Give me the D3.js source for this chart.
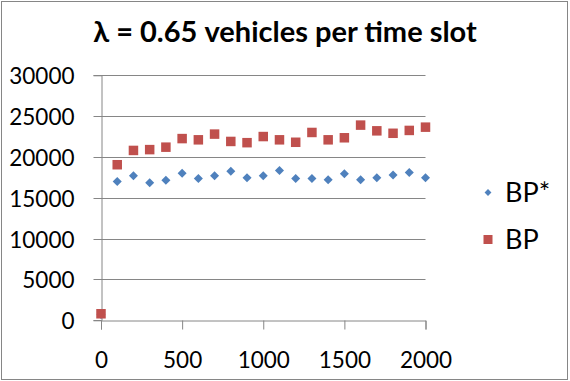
<!DOCTYPE html>
<html>
<head>
<meta charset="utf-8">
<script src="https://cdn.jsdelivr.net/npm/d3@7"></script>
<style>
  body { margin: 0; background: #fff; }
  svg { display: block; font-family: Lato, "Open Sans", sans-serif; }
</style>
</head>
<body>
<svg id="chart"></svg>
<script>
let xValues = [0, 100, 200, 300, 400, 500, 600, 700, 800, 900, 1000,
               1100, 1200, 1300, 1400, 1500, 1600, 1700, 1800, 1900, 2000]
let bpStar = [700, 17000, 17700, 16850, 17150, 18000, 17350, 17700, 18250, 17450, 17700,
              18350, 17350, 17350, 17200, 17950, 17200, 17450, 17800, 18100, 17450]
let bp = [800, 19050, 20800, 20900, 21200, 22250, 22100, 22800, 21900, 21750, 22500,
          22100, 21800, 23000, 22100, 22350, 23900, 23200, 22900, 23250, 23650]
let xTicks = [0, 500, 1000, 1500, 2000]
let yTicks = [0, 5000, 10000, 15000, 20000, 25000, 30000]
let seriesNames = ['BP*', 'BP']
let seriesColors = ['#4F81BD', '#C0504D']
let title = 'λ = 0.65 vehicles per time slot'

let width = 570
let height = 381
let plot = {left: 101, right: 425.5, top: 75.3, bottom: 320.3}

let svg = d3.select('#chart').attr('width', width).attr('height', height)

svg.append('rect')
   .attr('x', 1.5).attr('y', 1.5)
   .attr('width', 566).attr('height', 378)
   .attr('fill', '#fff').attr('stroke', '#868686')

let xScale = d3.scaleLinear().domain([0, 2000]).range([plot.left, plot.right])
let yScale = d3.scaleLinear().domain([0, 30000]).range([plot.bottom, plot.top])

// gridlines
svg.append('g')
   .selectAll('line')
   .data(yTicks.filter(d => d > 0))
   .enter()
   .append('line')
   .attr('x1', plot.left).attr('x2', plot.right)
   .attr('y1', d => Math.round(yScale(d)) + 0.5)
   .attr('y2', d => Math.round(yScale(d)) + 0.5)
   .attr('stroke', '#868686')

let yAxis = d3.axisLeft(yScale).tickValues(yTicks).tickSize(8).tickPadding(19).tickFormat(d3.format('d'))
let xAxis = d3.axisBottom(xScale).tickValues(xTicks).tickSize(9).tickPadding(23).tickFormat(d3.format('d'))

let gy = svg.append('g')
   .attr('transform', 'translate(' + (Math.round(plot.left) + 0.5) + ',0)')
   .call(yAxis)
gy.selectAll('.tick').attr('transform', d => 'translate(0,' + (Math.round(yScale(d)) + 0.5) + ')')

let gx = svg.append('g')
   .attr('transform', 'translate(0,' + (Math.round(plot.bottom) + 0.5) + ')')
   .call(xAxis)

for (let g of [gx, gy]) {
  g.select('.domain').attr('stroke', '#868686')
  g.selectAll('.tick line').attr('stroke', '#868686')
  g.selectAll('.tick text').attr('fill', '#000').style('font-size', '22.5px').style('font-family', 'Lato, sans-serif')
}
gy.selectAll('.tick text').attr('dy', '0.36em')

// BP* diamonds
let diamond = d3.symbol().type(d3.symbolDiamond2).size(52)
svg.append('g')
   .selectAll('path')
   .data(xValues.map((x, i) => ({x: x, y: bpStar[i]})))
   .enter()
   .append('path')
   .attr('d', diamond)
   .attr('transform', d => 'translate(' + xScale(d.x) + ',' + yScale(d.y) + ')')
   .attr('fill', seriesColors[0])

// BP squares
svg.append('g')
   .selectAll('rect')
   .data(xValues.map((x, i) => ({x: x, y: bp[i]})))
   .enter()
   .append('rect')
   .attr('x', d => xScale(d.x) - 4.75)
   .attr('y', d => yScale(d.y) - 4.75)
   .attr('width', 9.5).attr('height', 9.5)
   .attr('fill', seriesColors[1])

// title
svg.append('text')
   .attr('x', 285).attr('y', 42)
   .attr('text-anchor', 'middle')
   .style('font-size', '29px')
   .style('font-weight', 'bold')
   .text(title)

// legend
let legend = svg.append('g')
let legendY = [192.5, 239.5]
legend.append('path')
   .attr('d', d3.symbol().type(d3.symbolDiamond2).size(30))
   .attr('transform', 'translate(488,' + legendY[0] + ')')
   .attr('fill', seriesColors[0])
legend.append('rect')
   .attr('x', 483.5).attr('y', legendY[1] - 4.5)
   .attr('width', 9).attr('height', 9)
   .attr('fill', seriesColors[1])
legend.selectAll('text')
   .data(seriesNames)
   .enter()
   .append('text')
   .attr('x', 505)
   .attr('y', (d, i) => legendY[i] + 9)
   .style('font-size', '27px')
   .text(d => d)
</script>
</body>
</html>
